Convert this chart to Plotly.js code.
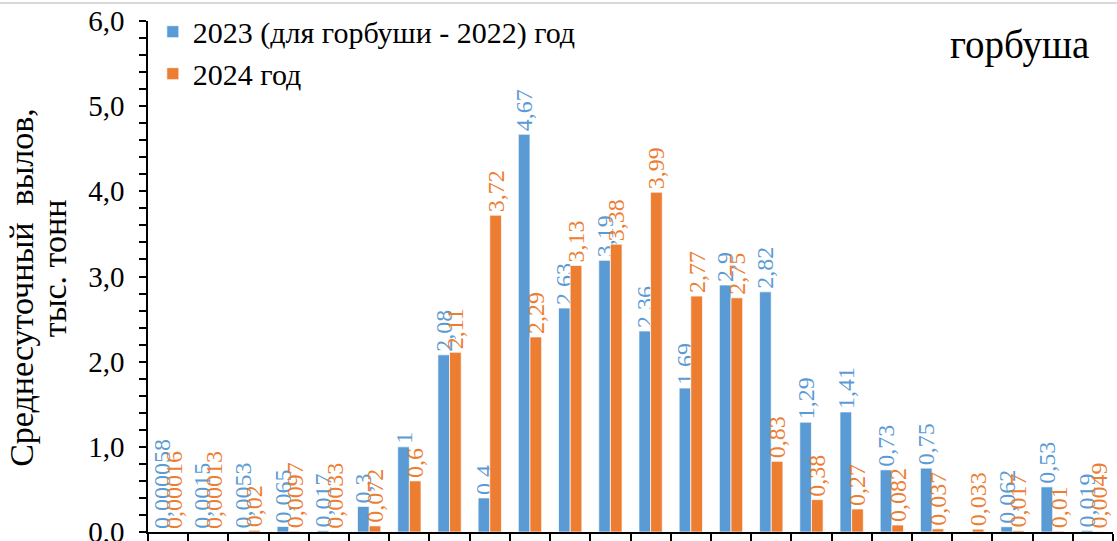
<!DOCTYPE html>
<html>
<head>
<meta charset="utf-8">
<script src="https://cdn.plot.ly/plotly-3.0.1.min.js"></script>
<style>
  html, body { margin: 0; padding: 0; background: #ffffff; }
  #chart { width: 1117px; height: 541px; }
</style>
</head>
<body>
<div id="chart"></div>
<script>
// one category per day-group (x labels are cut off in the source picture)
const categories = ["1", "2", "3", "4", "5", "6", "7", "8", "9", "10", "11", "12",
                    "13", "14", "15", "16", "17", "18", "19", "20", "21", "22", "23", "24"];

const values2023 = [0.000058, 0.0015, 0.0053, 0.065, 0.017, 0.3, 1, 2.08, 0.4, 4.67, 2.63, 3.19,
                    2.36, 1.69, 2.9, 2.82, 1.29, 1.41, 0.73, 0.75, -0.01, 0.062, 0.53, 0.019];
const values2024 = [0.00016, 0.00013, 0.02, 0.0097, 0.0033, 0.072, 0.6, 2.11, 3.72, 2.29, 3.13, 3.38,
                    3.99, 2.77, 2.75, 0.83, 0.38, 0.27, 0.082, 0.037, 0.033, 0.017, 0.01, 0.0049];

const name2023 = "2023 (для горбуши - 2022) год";
const name2024 = "2024 год";

const BLUE = "#5B9BD5";
const ORANGE = "#ED7D31";
const SERIF = "Times New Roman";

function labelText(v) {
  if (v < 0) return "";
  return String(v).replace(".", ",");
}

function barTrace(name, values, color) {
  return {
    type: "bar",
    name: name,
    x: categories,
    y: values,
    text: values.map(labelText),
    textposition: "outside",
    textangle: -90,
    constraintext: "none",
    cliponaxis: false,
    textfont: { family: SERIF, size: 24, color: color },
    marker: { color: color, line: { color: "rgba(255,255,255,0.7)", width: 1 } },
    hoverinfo: "x+y",
  };
}

const traces = [
  barTrace(name2023, values2023, BLUE),
  barTrace(name2024, values2024, ORANGE),
];

const layout = {
  width: 1117,
  height: 541,
  margin: { l: 148, r: 4, t: 21, b: 9 },
  paper_bgcolor: "#ffffff",
  plot_bgcolor: "#ffffff",
  separators: ", ",
  barmode: "group",
  bargap: 0.42,
  bargroupgap: 0,
  font: { family: SERIF, color: "#000000" },
  showlegend: true,
  legend: {
    x: 0.005,
    y: 1.03,
    xanchor: "left",
    yanchor: "top",
    bgcolor: "rgba(0,0,0,0)",
    font: { family: SERIF, size: 30, color: "#000000" },
    itemwidth: 30,
  },
  xaxis: {
    type: "category",
    showticklabels: false,
    showgrid: false,
    zeroline: false,
    showline: true,
    linecolor: "#000000",
    linewidth: 1.5,
    ticks: "outside",
    tickson: "boundaries",
    ticklen: 10,
    tickwidth: 1.5,
    tickcolor: "#000000",
  },
  yaxis: {
    range: [0, 6],
    dtick: 1,
    tickformat: ".1f",
    showgrid: false,
    zeroline: false,
    showline: true,
    linecolor: "#000000",
    linewidth: 1.5,
    ticks: "outside",
    ticklen: 7,
    tickwidth: 1.5,
    tickcolor: "#000000",
    ticklabelstandoff: 9,
    ticklabeloverflow: "allow",
    minor: { dtick: 0.2, ticks: "outside", ticklen: 7, tickwidth: 1.5, tickcolor: "#000000" },
    tickfont: { family: SERIF, size: 29, color: "#000000" },
  },
  annotations: [
    {
      xref: "paper", yref: "paper",
      x: -0.131, y: 0.479,
      xanchor: "center", yanchor: "middle",
      textangle: -90,
      showarrow: false,
      text: "Среднесуточный  вылов,",
      font: { family: SERIF, size: 34, color: "#000000" },
    },
    {
      xref: "paper", yref: "paper",
      x: -0.097, y: 0.517,
      xanchor: "center", yanchor: "middle",
      textangle: -90,
      showarrow: false,
      text: "тыс. тонн",
      font: { family: SERIF, size: 34, color: "#000000" },
    },
    {
      xref: "paper", yref: "paper",
      x: 0.9036, y: 0.953,
      xanchor: "center", yanchor: "middle",
      showarrow: false,
      text: "горбуша",
      font: { family: SERIF, size: 39, color: "#000000" },
    },
  ],
  shapes: [
    {
      type: "line", xref: "paper", yref: "paper",
      x0: -0.16, x1: 1.01, y0: 1.035, y1: 1.035,
      line: { color: "#d9d9d9", width: 2 },
    },
  ],
};

Plotly.newPlot("chart", traces, layout, { displayModeBar: false, responsive: false });
</script>
</body>
</html>
